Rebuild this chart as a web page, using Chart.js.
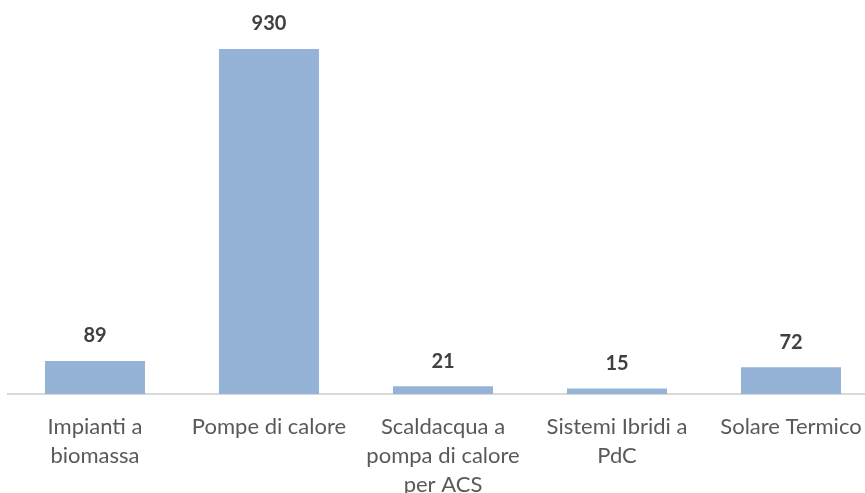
<!DOCTYPE html>
<html lang="it">
<head>
  <meta charset="UTF-8" />
  <title>Interventi per tipologia</title>
  <script src="https://cdn.jsdelivr.net/npm/chart.js"></script>
  <style>
    html, body {
      margin: 0;
      padding: 0;
      background: #ffffff;
      overflow: hidden;
    }
    #wrap {
      width: 865px;
      height: 493px;
      overflow: hidden;
      position: relative;
    }
    #wrap canvas {
      position: absolute;
      left: 0;
      top: 0;
    }
  </style>
</head>
<body>
  <div id="wrap">
    <canvas id="barChart" width="880" height="509"></canvas>
  </div>

  <script>
    const categories = [
      ['Impianti a', 'biomassa'],
      ['Pompe di calore'],
      ['Scaldacqua a', 'pompa di calore', 'per ACS'],
      ['Sistemi Ibridi a', 'PdC'],
      ['Solare Termico']
    ];
    const values = [89, 930, 21, 15, 72];

    // value labels above each bar
    const barLabels = {
      id: 'barLabels',
      afterDatasetsDraw(chart) {
        const ctx = chart.ctx;
        const meta = chart.getDatasetMeta(0);
        ctx.save();
        ctx.font = 'bold 20px Lato, sans-serif';
        ctx.fillStyle = '#404040';
        ctx.textAlign = 'center';
        ctx.textBaseline = 'middle';
        meta.data.forEach((bar, i) => {
          ctx.fillText(values[i], bar.x, bar.y - 25);
        });
        ctx.restore();
      }
    };

    const ctx = document.getElementById('barChart').getContext('2d');
    new Chart(ctx, {
      type: 'bar',
      data: {
        labels: categories,
        datasets: [{
          data: values,
          backgroundColor: '#95b3d7',
          borderWidth: 0,
          categoryPercentage: 1,
          barPercentage: 0.575
        }]
      },
      options: {
        responsive: false,
        animation: false,
        layout: {
          padding: { left: 8, right: 2, top: 10, bottom: 0 }
        },
        plugins: {
          legend: { display: false },
          tooltip: { enabled: false }
        },
        scales: {
          x: {
            grid: { display: false },
            border: { display: true, color: '#d9d9d9', width: 2 },
            ticks: {
              color: '#595959',
              font: { family: 'Lato, sans-serif', size: 22, lineHeight: 29 / 22 },
              padding: 10,
              maxRotation: 0,
              autoSkip: false
            }
          },
          y: {
            display: false,
            min: 0,
            max: 1035
          }
        }
      },
      plugins: [barLabels]
    });
  </script>
</body>
</html>
